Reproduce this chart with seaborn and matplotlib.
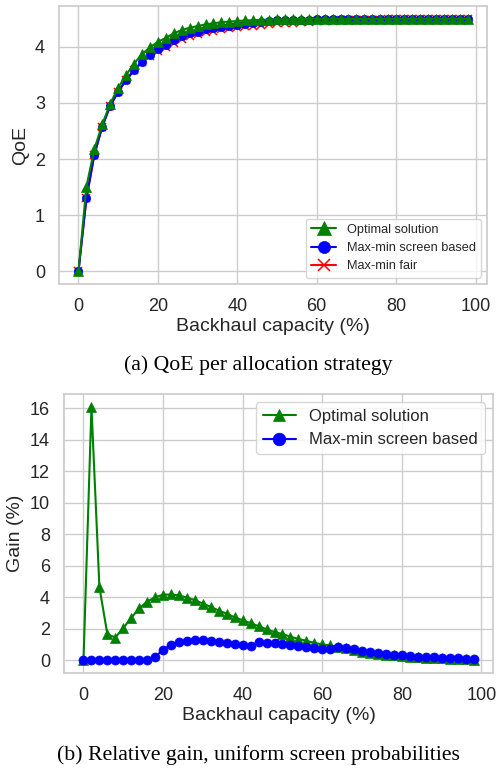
import matplotlib
matplotlib.use("Agg")
import matplotlib.pyplot as plt
import seaborn as sns
import pandas as pd

capacity = [0, 2, 4, 6, 8, 10, 12, 14, 16, 18, 20, 22, 24, 26, 28, 30, 32, 34, 36, 38,
            40, 42, 44, 46, 48, 50, 52, 54, 56, 58, 60, 62, 64, 66, 68, 70, 72, 74, 76, 78,
            80, 82, 84, 86, 88, 90, 92, 94, 96, 98]

qoe_optimal = [0, 1.51, 2.18, 2.62, 2.99, 3.27, 3.50, 3.70, 3.87, 3.99, 4.09, 4.16, 4.24, 4.30,
               4.34, 4.37, 4.40, 4.42, 4.44, 4.45, 4.46, 4.47, 4.475, 4.48, 4.485, 4.49, 4.49,
               4.495, 4.495, 4.50, 4.50, 4.50, 4.50, 4.50, 4.50, 4.50, 4.50, 4.50, 4.50, 4.50,
               4.50, 4.50, 4.50, 4.50, 4.50, 4.50, 4.50, 4.50, 4.50, 4.50]
qoe_screen = [0, 1.30, 2.08, 2.58, 2.95, 3.20, 3.41, 3.58, 3.73, 3.85, 3.96, 4.03, 4.12, 4.19,
              4.24, 4.27, 4.31, 4.33, 4.36, 4.37, 4.39, 4.41, 4.43, 4.44, 4.46, 4.47, 4.47,
              4.47, 4.48, 4.48, 4.49, 4.49, 4.50, 4.50, 4.50, 4.50, 4.50, 4.50, 4.50, 4.50,
              4.50, 4.50, 4.50, 4.50, 4.50, 4.50, 4.50, 4.50, 4.50, 4.50]
qoe_fair = [0, 1.30, 2.08, 2.58, 2.95, 3.20, 3.41, 3.58, 3.73, 3.84, 3.93, 3.99, 4.07, 4.14,
            4.19, 4.22, 4.26, 4.28, 4.31, 4.33, 4.35, 4.37, 4.38, 4.39, 4.41, 4.42, 4.43,
            4.43, 4.44, 4.45, 4.455, 4.46, 4.465, 4.47, 4.475, 4.48, 4.482, 4.485, 4.487, 4.49,
            4.49, 4.492, 4.493, 4.494, 4.495, 4.496, 4.497, 4.497, 4.498, 4.498]

gain_optimal = [0, 16.1, 4.65, 1.65, 1.45, 2.05, 2.7, 3.3, 3.73, 4.0, 4.17, 4.18, 4.12, 3.98,
                3.82, 3.6, 3.39, 3.16, 2.96, 2.73, 2.54, 2.36, 2.17, 1.97, 1.79, 1.67, 1.5,
                1.36, 1.24, 1.11, 1.01, 0.95, 0.86, 0.76, 0.66, 0.56, 0.48, 0.42, 0.36, 0.31,
                0.27, 0.23, 0.2, 0.17, 0.14, 0.12, 0.1, 0.08, 0.06, 0.03]
gain_screen = [0, 0, 0, 0, 0, 0, 0, 0, 0, 0.22, 0.68, 0.98, 1.15, 1.23, 1.26, 1.26, 1.22, 1.17,
               1.11, 1.04, 0.98, 0.91, 1.17, 1.12, 1.09, 1.04, 0.97, 0.89, 0.83, 0.78, 0.72,
               0.71, 0.83, 0.77, 0.69, 0.6, 0.52, 0.46, 0.4, 0.36, 0.32, 0.28, 0.24, 0.21,
               0.19, 0.17, 0.15, 0.13, 0.1, 0.07]

labels = ["Optimal solution", "Max-min screen based", "Max-min fair"]
xlabel = "Backhaul capacity (%)"
caption_a = "(a) QoE per allocation strategy"
caption_b = "(b) Relative gain, uniform screen probabilities"

sns.set_theme(style="whitegrid")
plt.rcParams['font.family'] = ['Liberation Sans', 'DejaVu Sans']

fig = plt.figure(figsize=(4.98, 7.69), dpi=100)
ax1 = fig.add_axes([0.1185, 0.6307, 0.8595, 0.3613])
ax2 = fig.add_axes([0.1285, 0.1248, 0.8615, 0.3628])

df_q = pd.DataFrame({"x": capacity, "opt": qoe_optimal, "scr": qoe_screen, "fair": qoe_fair})
df_g = pd.DataFrame({"x": capacity, "opt": gain_optimal, "scr": gain_screen})

lw = 1.5
# Top plot
sns.lineplot(data=df_q, x="x", y="fair", ax=ax1, color="red", marker="x", markersize=6,
             markeredgecolor="red", markeredgewidth=1.1, linewidth=lw, label=labels[2])
sns.lineplot(data=df_q, x="x", y="scr", ax=ax1, color="blue", marker="o", markersize=6,
             markeredgecolor="blue", markeredgewidth=0.5, linewidth=lw, label=labels[1])
sns.lineplot(data=df_q, x="x", y="opt", ax=ax1, color="green", marker="^", markersize=6.8,
             markeredgecolor="green", markeredgewidth=0.5, linewidth=lw, label=labels[0])
h, l = ax1.get_legend_handles_labels()
ax1.legend(h[::-1], l[::-1], loc="lower right", fontsize=9.2, markerscale=1.45,
           frameon=True)

# Bottom plot
sns.lineplot(data=df_g, x="x", y="opt", ax=ax2, color="green", marker="^", markersize=6.5,
             markeredgecolor="green", markeredgewidth=0.5, linewidth=lw, label=labels[0])
sns.lineplot(data=df_g, x="x", y="scr", ax=ax2, color="blue", marker="o", markersize=6.5,
             markeredgecolor="blue", markeredgewidth=0.5, linewidth=lw, label=labels[1])
ax2.legend(loc="upper right", fontsize=12, markerscale=1.4, frameon=True)

for ax, yl in ((ax1, "QoE"), (ax2, "Gain (%)")):
    ax.set_xlabel(xlabel, fontsize=14, labelpad=2)
    ax.set_ylabel(yl, fontsize=14, labelpad=4)
    ax.tick_params(labelsize=13, pad=4)
    ax.set_xticks([0, 20, 40, 60, 80, 100])
ax1.set_yticks([0, 1, 2, 3, 4])
ax2.set_yticks([0, 2, 4, 6, 8, 10, 12, 14, 16])

fig.text(0.518, 1 - 365 / 769, caption_a, ha="center", va="center", fontsize=15.7,
         family=["Liberation Serif"], color="black")
fig.text(0.519, 1 - 755 / 769, caption_b, ha="center", va="center", fontsize=15.7,
         family=["Liberation Serif"], color="black")

fig.savefig("out.png", dpi=100)
